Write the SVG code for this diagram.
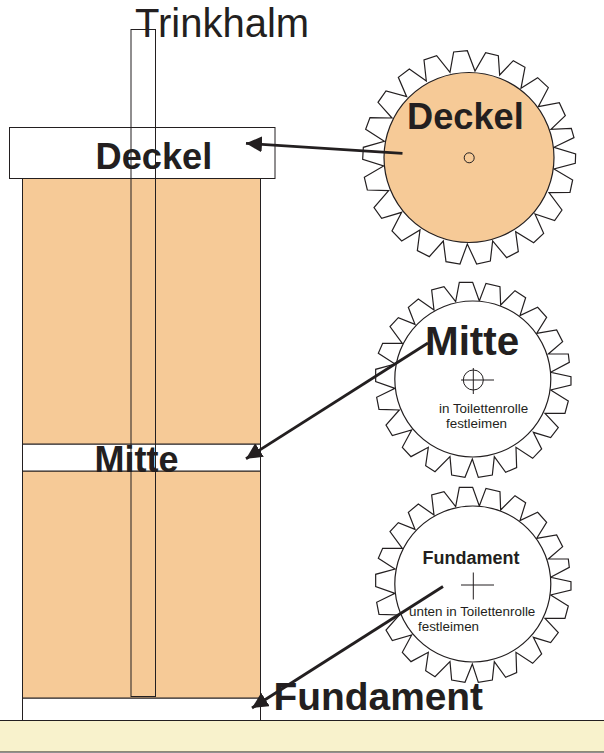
<svg xmlns="http://www.w3.org/2000/svg" width="604" height="753" viewBox="0 0 604 753">
<style>
text{font-family:"Liberation Sans",Arial,sans-serif;fill:#231f20}
.b{font-weight:bold}
.s{stroke:#231f20;stroke-width:1;fill:none}
.o{stroke:#231f20;stroke-width:1;fill:#f6ca97}
.w{stroke:#231f20;stroke-width:1;fill:#fff}
.gc{fill:#fff;stroke:#231f20;stroke-width:1.2}
.t{fill:#fff;stroke:#231f20;stroke-width:3.6;stroke-linejoin:miter}
.a{stroke:#231f20;stroke-width:2.8;fill:none;marker-end:url(#ah)}
</style>
<defs>
<marker id="ah" markerUnits="userSpaceOnUse" markerWidth="18" markerHeight="18" refX="16" refY="8" orient="auto">
<path d="M0,0L16,8L0,16Z" fill="#231f20"/>
</marker>
<path id="teethS" class="t" d="M287,80L298,22L338,22L358,78L378,25L420,35L422,90L465,47L497,68L480,122L533,97L560,127L530,175L590,165L608,200L565,237L625,237L628,262L572,292L633,305L633,330L572,345L625,378L615,415L555,415L595,458L572,488L520,472L545,522L518,550L468,517L470,578L437,592L403,545L397,600L355,607L337,552L315,607L275,600L270,545L225,590L197,572L205,517L153,545L127,517L155,465L97,482L78,450L118,405L57,403L50,367L105,340L47,320L47,283L105,267L55,235L68,205L127,205L90,155L115,128L165,148L145,97L175,72L222,105L215,45L252,35Z"/>
</defs>
<g id="ground"><rect x="-2" y="720.5" width="608" height="31.5" fill="#f8f2cc" stroke="#231f20" stroke-width="1"/></g>
<g id="roll">
<rect id="fundament-side" class="w" x="22.5" y="698" width="238" height="22.5"/>
<rect class="o" x="22.5" y="471" width="238" height="227"/>
<rect id="mitte-side" class="w" x="22.5" y="444" width="238" height="27"/>
<rect class="o" x="22.5" y="178" width="238" height="266"/>
<rect id="deckel-side" class="w" x="9.5" y="127.5" width="265.5" height="51"/>
<rect id="trinkhalm" class="s" x="131" y="29.5" width="24.5" height="667"/>
<text x="135" y="36.5" font-size="40">Trinkhalm</text>
<text class="b" x="95.5" y="168.5" font-size="36.2">Deckel</text>
<text class="b" x="94.5" y="472" font-size="36">Mitte</text>
</g>
<g id="gear-deckel">
<path class="t" transform="translate(350,40) scale(.3333)" d="M300,97L311,36L352,32L375,93L407,38L445,47L449,105L490,62L525,82L513,145L563,113L595,143L565,200L628,188L646,227L603,268L664,265L672,293L612,322L677,342L676,370L612,387L668,420L660,457L597,458L636,510L614,542L555,522L581,580L551,608L497,575L505,635L470,653L428,603L421,663L380,672L352,612L330,672L288,665L280,603L238,650L202,632L210,570L155,603L126,573L155,517L95,535L72,503L116,452L52,450L43,412L101,378L38,358L40,322L103,304L47,268L60,233L126,234L84,187L108,153L170,170L145,112L178,87L229,123L222,60L260,47Z"/>
<circle cx="469" cy="157.5" r="85" fill="#f6ca97" stroke="#231f20" stroke-width="1.2"/>
<circle class="s" cx="469.2" cy="157.8" r="5"/>
<text class="b" x="407" y="129" font-size="36.2">Deckel</text>
</g>
<g id="gear-mitte">
<use href="#teethS" transform="translate(360,275) scale(.3333)"/>
<circle class="gc" cx="472.8" cy="379" r="78"/>
<circle class="s" cx="473.3" cy="380" r="10"/>
<path class="s" d="M461,380H494M473.3,368V394"/>
<text class="b" x="425" y="355" font-size="40.4">Mitte</text>
<text x="439" y="413" font-size="13.4">in Toilettenrolle</text>
<text x="446" y="428" font-size="13.4">festleimen</text>
</g>
<g id="gear-fundament">
<use href="#teethS" transform="translate(360,480) scale(.3333)"/>
<circle class="gc" cx="472.8" cy="584" r="78"/>
<path class="s" d="M461,585H494M473.3,572.5V599.5"/>
<text class="b" x="422.5" y="563.5" font-size="18">Fundament</text>
<text x="409" y="616" font-size="13.4">unten in Toilettenrolle</text>
<text x="418" y="631" font-size="13.4">festleimen</text>
</g>
<text id="label-fundament" class="b" x="273.5" y="710" font-size="38.9">Fundament</text>
<g id="connectors">
<line class="a" x1="402.5" y1="153.3" x2="246" y2="143.3"/>
<line class="a" x1="428" y1="343" x2="246" y2="458.7"/>
<line class="a" x1="443" y1="586.5" x2="252" y2="708"/>
</g>
</svg>
